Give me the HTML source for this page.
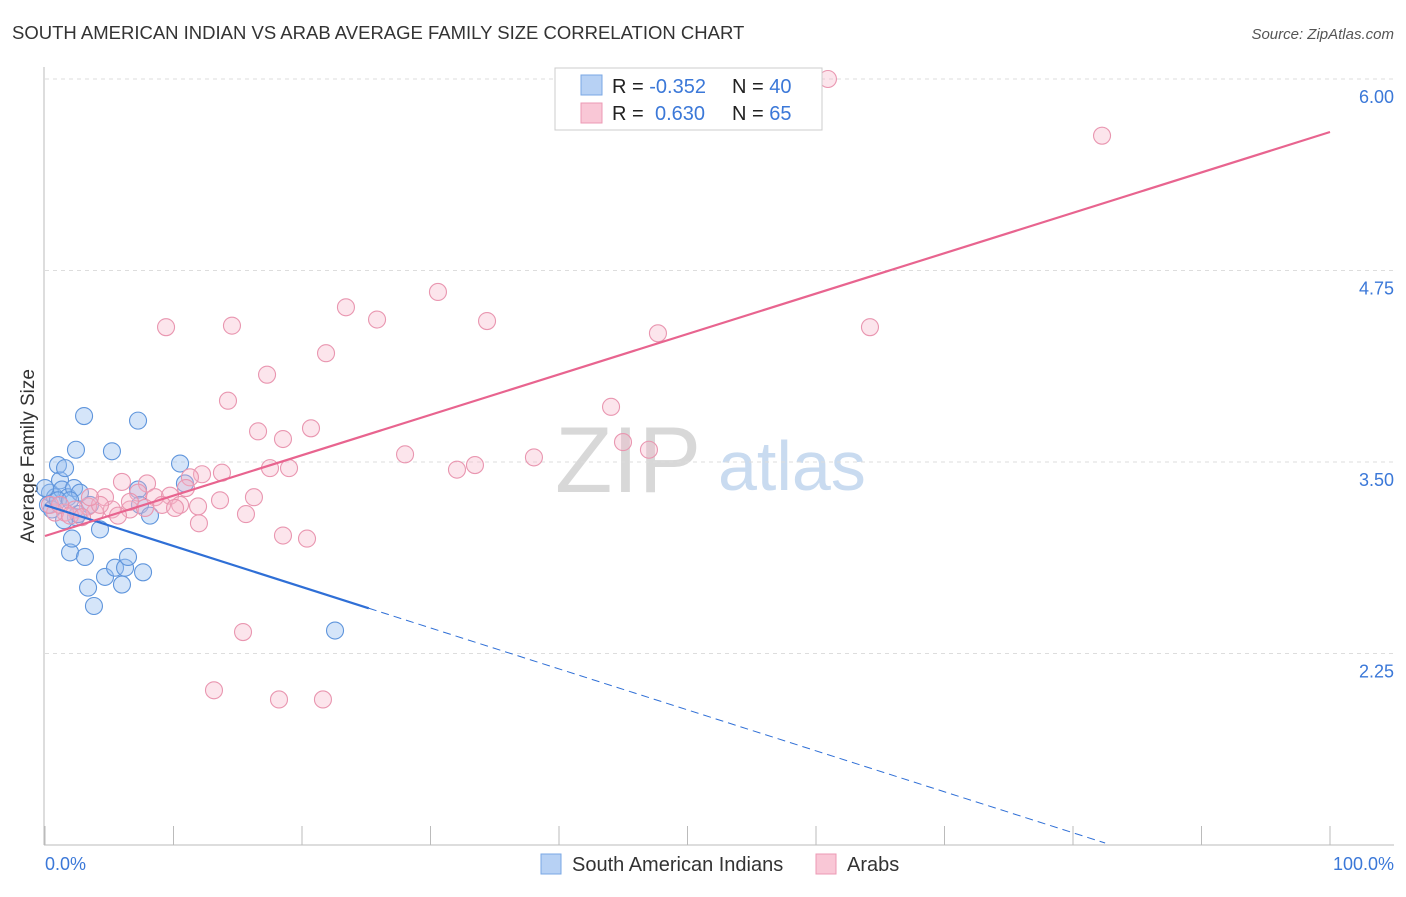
<!DOCTYPE html>
<html><head><meta charset="utf-8"><style>
html,body{margin:0;padding:0;background:#fff;}
body{width:1406px;height:892px;overflow:hidden;font-family:"Liberation Sans",sans-serif;}
svg text{font-family:"Liberation Sans",sans-serif;}
</style></head><body>
<svg id="chart" width="1406" height="892">
<text x="12" y="39" font-size="18.5" fill="#333">SOUTH AMERICAN INDIAN VS ARAB AVERAGE FAMILY SIZE CORRELATION CHART</text>
<text x="1394" y="39" font-size="15" fill="#555" font-style="italic" text-anchor="end">Source: ZipAtlas.com</text>
<text x="34" y="456" font-size="19" fill="#333" text-anchor="middle" transform="rotate(-90 34 456)">Average Family Size</text>
<text x="555" y="492" font-size="94" fill="#d8d8d8" font-family="Liberation Serif">ZIP</text>
<text x="718" y="490" font-size="70" fill="#c9dbf0">atlas</text>
<g id="grid"></g><g id="axes"></g><g id="pts"></g><g id="lines"></g>
<g>
<rect x="555" y="68" width="267" height="62" fill="#fff" stroke="#ccc"/>
<rect x="581" y="75" width="21" height="20" fill="#b7d1f4" stroke="#7aa7e4"/>
<rect x="581" y="103" width="21" height="20" fill="#f9c7d6" stroke="#ec9ab4"/>
<text x="612" y="93" font-size="20" fill="#222">R = <tspan fill="#3b78d8">-0.352</tspan><tspan x="732">N = </tspan><tspan fill="#3b78d8">40</tspan></text>
<text x="612" y="120" font-size="20" fill="#222">R = <tspan x="655" fill="#3b78d8">0.630</tspan><tspan x="732">N = </tspan><tspan fill="#3b78d8">65</tspan></text>
</g>
<g>
<rect x="541" y="854" width="20" height="20" fill="#b7d1f4" stroke="#7aa7e4"/>
<text x="572" y="871" font-size="20" fill="#333">South American Indians</text>
<rect x="816" y="854" width="20" height="20" fill="#f9c7d6" stroke="#ec9ab4"/>
<text x="847" y="871" font-size="20" fill="#333">Arabs</text>
</g>
<text x="45" y="870" font-size="18" fill="#3b78d8">0.0%</text>
<text x="1394" y="870" font-size="18" fill="#3b78d8" text-anchor="end">100.0%</text>
</svg>
<script>
const yTicks=[6.00,4.75,3.50,2.25];
const yTickLabels=["6.00","4.75","3.50","2.25"];
const xTicks=[0,10,20,30,40,50,60,70,80,90,100];
const blueX=[0.39,0.78,1.01,1.17,1.32,1.56,1.79,1.95,2.10,2.26,2.41,2.57,2.72,3.04,2.41,3.11,3.35,3.81,4.28,4.67,5.21,5.45,5.99,6.23,6.46,7.24,7.63,7.24,7.39,8.17,10.51,10.89,22.57,0.23,0.54,1.01,1.48,1.95,0,3.50];
const blueY=[3.30,3.27,3.48,3.38,3.32,3.46,3.27,2.91,3.00,3.33,3.14,3.16,3.30,3.80,3.58,2.88,2.68,2.56,3.06,2.75,3.57,2.81,2.70,2.81,2.88,3.77,2.78,3.32,3.22,3.15,3.49,3.36,2.40,3.22,3.19,3.25,3.12,3.25,3.33,3.22];
const pinkX=[60.93,82.26,9.42,14.55,23.42,25.84,30.58,34.40,47.70,64.20,21.87,17.28,14.24,44.05,16.58,18.52,20.70,44.98,47.00,28.02,33.46,32.06,38.05,17.51,18.99,13.77,12.22,11.28,5.99,7.94,7.24,10.97,8.56,9.73,4.67,16.26,13.62,11.91,10.51,15.64,9.11,6.61,5.21,3.89,3.35,2.33,1.56,0.78,0.39,11.98,18.52,20.39,15.41,13.15,18.21,21.63,4.28,5.68,7.78,1.17,1.95,2.88,10.12,3.50,6.61];
const pinkY=[6.00,5.63,4.38,4.39,4.51,4.43,4.61,4.42,4.34,4.38,4.21,4.07,3.90,3.86,3.70,3.65,3.72,3.63,3.58,3.55,3.48,3.45,3.53,3.46,3.46,3.43,3.42,3.40,3.37,3.36,3.30,3.33,3.27,3.28,3.27,3.27,3.25,3.21,3.22,3.16,3.22,3.19,3.19,3.17,3.21,3.19,3.17,3.17,3.22,3.10,3.02,3.00,2.39,2.01,1.95,1.95,3.22,3.15,3.20,3.22,3.15,3.14,3.20,3.27,3.24];
const blueTrend=[3.219,1.013];
const blueTrendX=[0,25.2,82.5];
const pinkTrend=[3.017,5.654];
const NS="http://www.w3.org/2000/svg";
const X0=45,X1=1330,Y6=79,PXU=153.2;
const sx=v=>X0+(X1-X0)*v/100;
const sy=v=>Y6+(6-v)*PXU;
function mk(tag,attrs,parent){const e=document.createElementNS(NS,tag);for(const k in attrs)e.setAttribute(k,attrs[k]);document.getElementById(parent).appendChild(e);return e;}
yTicks.forEach((t,i)=>{
 const l=mk('line',{x1:45,x2:1394,y1:sy(t),y2:sy(t),stroke:'#ddd','stroke-dasharray':'4,4'},'grid');
 
 
 const tx=mk('text',{x:1394,y:sy(t)+24,'font-size':18,fill:'#3b78d8','text-anchor':'end'},'grid');
 tx.textContent=yTickLabels[i];
 
 
});
const ax=mk('line',{x1:44,x2:44,y1:67,y2:845,stroke:'#bbb'},'axes');


const bx=mk('line',{x1:44,x2:1394,y1:845,y2:845,stroke:'#bbb'},'axes');


xTicks.forEach(t=>{
 const l=mk('line',{x1:sx(t),x2:sx(t),y1:826,y2:845,stroke:'#bbb'},'axes');
 
 
});
blueX.forEach((x,i)=>{
 const c=mk('circle',{cx:sx(x),cy:sy(blueY[i]),r:8.5,fill:'rgba(150,190,240,0.4)',stroke:'#5f95dc','stroke-width':1.1},'pts');
 
 
});
pinkX.forEach((x,i)=>{
 const c=mk('circle',{cx:sx(x),cy:sy(pinkY[i]),r:8.5,fill:'rgba(246,180,200,0.35)',stroke:'#e996b0','stroke-width':1.1},'pts');
 
 
});
const bv=x=>blueTrend[0]+(blueTrend[1]-blueTrend[0])*x/blueTrendX[2];
const b1=mk('line',{x1:sx(0),y1:sy(bv(0)),x2:sx(blueTrendX[1]),y2:sy(bv(blueTrendX[1])),stroke:'#2f6fd6','stroke-width':2.2},'lines');


const b2=mk('line',{x1:sx(blueTrendX[1]),y1:sy(bv(blueTrendX[1])),x2:sx(blueTrendX[2]),y2:sy(bv(blueTrendX[2])),stroke:'#2f6fd6','stroke-width':1,'stroke-dasharray':'8,5'},'lines');


const p1=mk('line',{x1:sx(0),y1:sy(pinkTrend[0]),x2:sx(100),y2:sy(pinkTrend[1]),stroke:'#e8648f','stroke-width':2.2},'lines');


</script>
</body></html>
